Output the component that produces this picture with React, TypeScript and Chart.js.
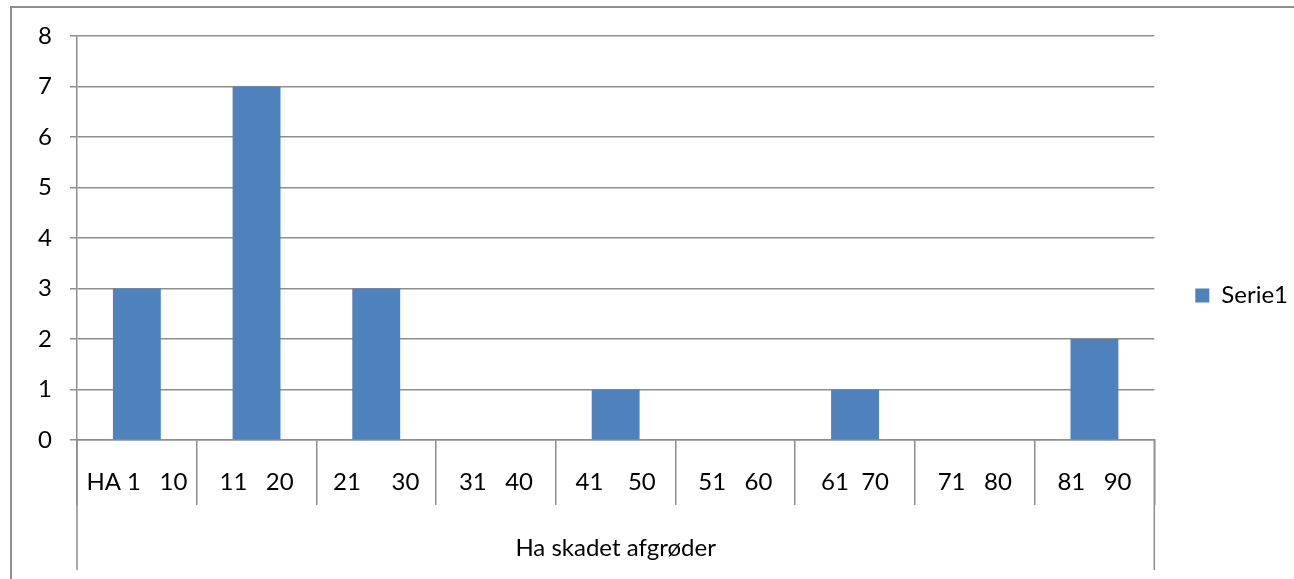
import { useEffect, useRef } from 'react';
import { Chart, registerables } from 'chart.js';

Chart.register(...registerables);

const categories = ['HA 1   10', '11   20', '21     30', '31   40', '41    50', '51   60', '61  70', '71   80', '81   90'];
const seriesName = 'Serie1';
const seriesValues = [3, 7, 3, 0, 1, 0, 1, 0, 2];
const yMin = 0;
const yMax = 8;
const yStep = 1;
const groupLabel = 'Ha skadet afgrøder';

const FONT = 'Lato, "Open Sans", sans-serif';
const FONT_SIZE = 24;
const GRID = '#8e8e8e';
const BAR = '#4F81BD';

const edgeLines = {
  id: 'edgeLines',
  afterDraw(chart: any) {
    const { ctx, chartArea } = chart;
    const xs = chart.scales.x;
    ctx.save();
    ctx.strokeStyle = GRID;
    ctx.lineWidth = 1.5;
    [chartArea.left, chartArea.right].forEach((x: number) => {
      ctx.beginPath();
      ctx.moveTo(x, chartArea.bottom);
      ctx.lineTo(x, xs.bottom - 9);
      ctx.stroke();
    });
    ctx.restore();
  },
};

export default function App() {
  const ref = useRef<HTMLCanvasElement>(null);
  useEffect(() => {
    if (!ref.current) return;
    const chart = new Chart(ref.current, {
      type: 'bar',
      data: {
        labels: categories,
        datasets: [
          {
            label: seriesName,
            data: seriesValues,
            backgroundColor: BAR,
            borderWidth: 0,
            barPercentage: 0.4,
            categoryPercentage: 1,
          },
        ],
      },
      options: {
        animation: false,
        responsive: false,
        devicePixelRatio: 1,
        layout: { padding: { top: 12, left: 0, right: -4, bottom: 0 } },
        plugins: {
          tooltip: { enabled: false },
          legend: {
            position: 'right',
            labels: {
              boxWidth: 14,
              boxHeight: 14,
              padding: 6,
              color: '#000',
              font: { family: FONT, size: FONT_SIZE },
            },
          },
        },
        scales: {
          x: {
            type: 'category',
            position: 'bottom',
            offset: true,
            grid: {
              offset: true,
              drawOnChartArea: false,
              drawTicks: true,
              tickLength: 65,
              color: GRID,
              lineWidth: 1.5,
            },
            border: { display: true, color: GRID, width: 1.5 },
            ticks: {
              autoSkip: false,
              maxRotation: 0,
              minRotation: 0,
              padding: -37,
              color: '#000',
              font: { family: FONT, size: FONT_SIZE },
            },
            title: {
              display: true,
              text: groupLabel,
              color: '#000',
              font: { family: FONT, size: FONT_SIZE },
              padding: { top: 0, bottom: 16 },
            },
            afterFit: (s: any) => {
              s.height = 139;
            },
          },
          xTop: {
            type: 'linear',
            position: 'top',
            display: true,
            grid: { display: false },
            ticks: { display: false },
            border: { display: false },
            afterFit: (s: any) => {
              s.height = 24;
            },
          },
          y: {
            type: 'linear',
            position: 'left',
            min: yMin,
            max: yMax,
            grid: { color: GRID, lineWidth: 1.5, tickLength: 7, drawTicks: true },
            border: { display: true, color: GRID, width: 1.5 },
            ticks: {
              stepSize: yStep,
              padding: 18,
              color: '#000',
              font: { family: FONT, size: FONT_SIZE },
            },
            afterFit: (s: any) => {
              s.width = 77;
            },
          },
          yRight: {
            type: 'linear',
            position: 'right',
            display: true,
            grid: { display: false },
            ticks: { display: false },
            border: { display: false },
            afterFit: (s: any) => {
              s.width = 35;
            },
          },
        },
      },
      plugins: [edgeLines],
    });
    return () => chart.destroy();
  }, []);

  return (
    <div style={{ position: 'fixed', left: 0, top: 0, width: 1294, height: 579, overflow: 'hidden', background: '#fff' }}>
      <div
        style={{
          position: 'absolute',
          left: 10,
          top: 6,
          width: 1320,
          height: 620,
          borderLeft: '2px solid #8e8e8e',
          borderTop: '2px solid #8e8e8e',
        }}
      />
      <canvas ref={ref} width={1294} height={579} style={{ position: 'absolute', left: 0, top: 0 }} />
    </div>
  );
}
